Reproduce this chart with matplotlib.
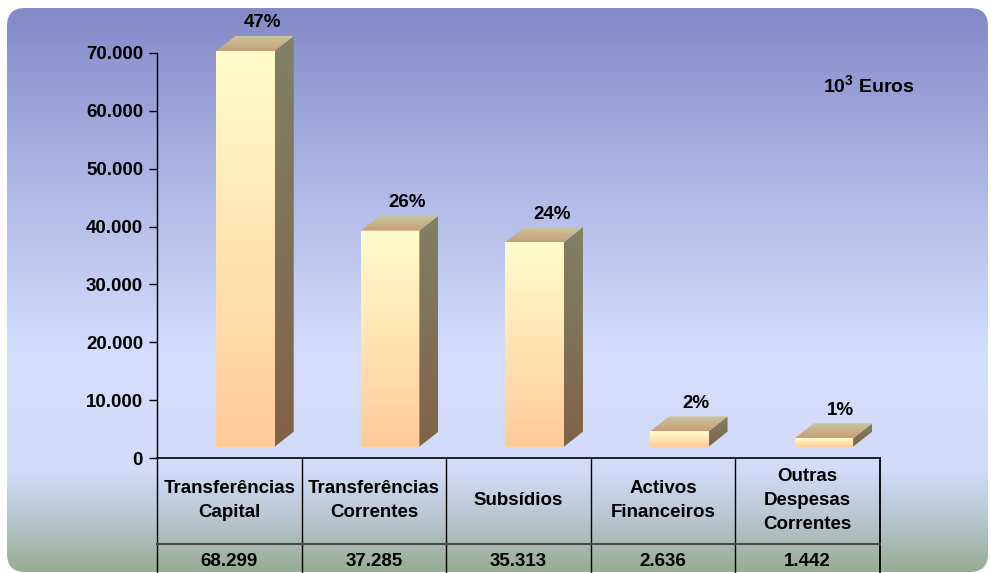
import numpy as np
import matplotlib
matplotlib.use("Agg")
import matplotlib.pyplot as plt
from matplotlib.patches import FancyBboxPatch, Polygon

# ---- data -------------------------------------------------------------
categories = [
    "Transferências\nCapital",
    "Transferências\nCorrentes",
    "Subsídios",
    "Activos\nFinanceiros",
    "Outras\nDespesas\nCorrentes",
]
values = [68299, 37285, 35313, 2636, 1442]
ytick_values = [0, 10000, 20000, 30000, 40000, 50000, 60000, 70000]
ytick_labels = ["0", "10.000", "20.000", "30.000", "40.000", "50.000", "60.000", "70.000"]
unit_text = r"10$^{\mathbf{3}}$ Euros"

# ---- style ------------------------------------------------------------
plt.rcParams["font.family"] = ["Liberation Sans", "DejaVu Sans"]
plt.rcParams["font.weight"] = "bold"
plt.rcParams["mathtext.fontset"] = "custom"
plt.rcParams["mathtext.bf"] = "Liberation Sans:bold"
plt.rcParams["mathtext.rm"] = "Liberation Sans:bold"
FS = 13.5

W, H = 991, 573
fig = plt.figure(figsize=(W / 100, H / 100), dpi=100)


def fmt_thousands(v):
    return f"{v:,}".replace(",", ".")


def vgrad(n, stops):
    """Vertical colour ramp: stops = [(pos 0..1 from top, (r,g,b)), ...]."""
    pos = np.array([s[0] for s in stops])
    cols = np.array([s[1] for s in stops], dtype=float) / 255.0
    t = np.linspace(0, 1, n)
    out = np.stack([np.interp(t, pos, cols[:, k]) for k in range(3)], axis=-1)
    return out[:, None, :]


# ---- rounded background panel ------------------------------------------
bg = fig.add_axes([0, 0, 1, 1])
bg.set_xlim(0, W)
bg.set_ylim(H, 0)
bg.axis("off")
panel = FancyBboxPatch((7, 8), 981, 564,
                       boxstyle="round,pad=0,rounding_size=18",
                       facecolor="none", edgecolor="none")
bg.add_patch(panel)
bg_img = vgrad(400, [
    (0.00, (130, 135, 197)),
    (0.30, (172, 180, 228)),
    (0.62, (212, 222, 252)),
    (0.82, (210, 220, 248)),
    (0.90, (186, 200, 210)),
    (1.00, (150, 172, 146)),
])
im = bg.imshow(bg_img, extent=(0, W, H, 0), aspect="auto", zorder=0)
im.set_clip_path(panel)

# ---- main axes ----------------------------------------------------------
px_per_unit = 57.94 / 10000.0
ax_left, ax_right = 157, 880
zero_y, top_y = 458.3, 8
ax = fig.add_axes([ax_left / W, (H - zero_y) / H,
                   (ax_right - ax_left) / W, (zero_y - top_y) / H])
ax.patch.set_alpha(0)
n = len(values)
ax.set_xlim(-0.5, n - 0.5)
ymax = (zero_y - top_y) / px_per_unit
ax.set_ylim(0, ymax)

px_x = (ax_right - ax_left) / n        # pixels per x unit
ux = 1.0 / px_x
uy = 1.0 / px_per_unit

bar_w = 58.5 * ux
front_dx = 16.2 * ux
lift = 11.6 * uy
ddx, ddy = 19.0 * ux, 15.0 * uy

front_ramp = vgrad(64, [(0, (255, 252, 204)), (1, (255, 203, 153))])
side_ramp = vgrad(64, [(0, (128, 128, 102)), (1, (128, 99, 70))])
top_ramp = vgrad(32, [(0, (200, 198, 156)), (1, (200, 158, 120))])

total = sum(values)
for i, v in enumerate(values):
    xc = i + front_dx
    x0, x1 = xc - bar_w / 2, xc + bar_w / 2
    y0, y1 = lift, lift + v

    # front face
    ax.imshow(front_ramp, extent=(x0, x1, y0, y1), aspect="auto",
              origin="upper", zorder=3, clip_on=False)
    # side face
    side = Polygon([(x1, y0), (x1 + ddx, y0 + ddy), (x1 + ddx, y1 + ddy), (x1, y1)],
                   closed=True, facecolor="none", edgecolor="none",
                   transform=ax.transData)
    ax.add_patch(side)
    s_im = ax.imshow(side_ramp, extent=(x1, x1 + ddx, y0, y1 + ddy),
                     aspect="auto", origin="upper", zorder=3)
    s_im.set_clip_path(side)
    # top face
    top = Polygon([(x0, y1), (x1, y1), (x1 + ddx, y1 + ddy), (x0 + ddx, y1 + ddy)],
                  closed=True, facecolor="none", edgecolor="none",
                  transform=ax.transData, clip_on=False)
    ax.add_patch(top)
    t_im = ax.imshow(top_ramp, extent=(x0, x1 + ddx, y1, y1 + ddy),
                     aspect="auto", origin="upper", zorder=3, clip_on=True)
    t_im.set_clip_path(top)

    pct = round(100 * v / total)
    ax.annotate(f"{pct}%", xy=(xc, y1), xytext=(17, 28),
                textcoords="offset pixels", ha="center", va="center",
                fontsize=FS, fontweight="bold", annotation_clip=False)

ax.set_xlim(-0.5, n - 0.5)
ax.set_ylim(0, ymax)

# axes styling
for s in ("top", "right"):
    ax.spines[s].set_visible(False)
ax.spines["left"].set_bounds(0, ytick_values[-1])
ax.spines["left"].set_linewidth(1.0)
ax.spines["bottom"].set_linewidth(1.2)
ax.set_yticks(ytick_values)
ax.set_yticklabels(ytick_labels)
ax.tick_params(axis="y", direction="out", length=6, width=1, pad=4,
               labelsize=FS)
ax.set_xticks([])

# ---- data table beneath the axis ----------------------------------------
ax_h = zero_y - top_y
row_split = -(543.5 - zero_y) / ax_h
fig_bottom = -(H - zero_y) / ax_h
trans = ax.get_xaxis_transform()
for k in range(n + 1):
    xb = k - 0.5
    ax.plot([xb, xb], [0, fig_bottom], transform=trans, color="black",
            lw=1.0 if k < n else 1.3, clip_on=False, zorder=5)
ax.plot([-0.5, n - 0.5], [row_split, row_split], transform=trans,
        color="#4a4a4a", lw=1.5, clip_on=False, zorder=5)

cat_y = -(500.5 - zero_y) / ax_h
val_y = -(561.7 - zero_y) / ax_h
for i, (c, v) in enumerate(zip(categories, values)):
    ax.text(i, cat_y, c, transform=trans, ha="center", va="center",
            multialignment="center", fontsize=FS, fontweight="bold",
            linespacing=1.55)
    ax.text(i, val_y, fmt_thousands(v), transform=trans, ha="center",
            va="center", fontsize=FS, fontweight="bold")

# unit note
bg.text(869, 86, unit_text, ha="center", va="center", fontsize=14,
        fontweight="bold")

fig.savefig("out.png", dpi=100)
